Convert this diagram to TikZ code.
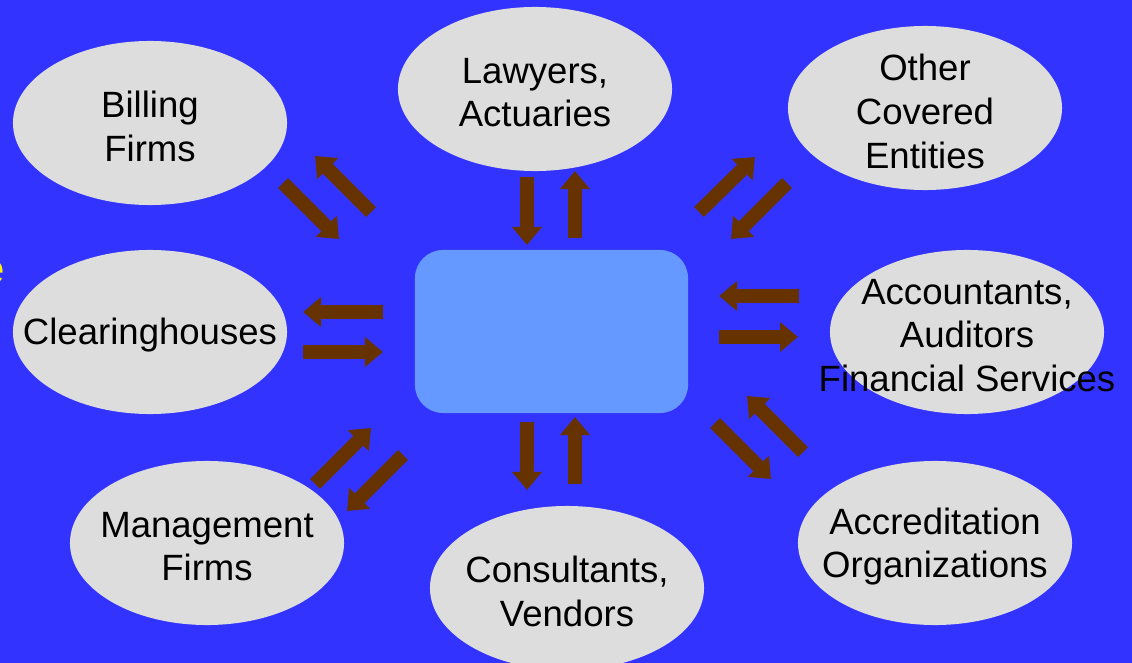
\documentclass[tikz,border=0pt]{standalone}
\usepackage{fontspec}
\setmainfont{Liberation Sans}
\usetikzlibrary{arrows.meta,shapes.geometric}
\definecolor{backblue}{HTML}{3333FF}
\definecolor{hubblue}{HTML}{6699FF}
\definecolor{partygray}{HTML}{DDDDDD}
\definecolor{flowbrown}{HTML}{663300}
\tikzset{
  party/.style = {shape=ellipse, fill=partygray, inner sep=0pt,
                  minimum width=6.85cm, minimum height=4.1cm},
  txt/.style   = {align=center, inner sep=0pt, yshift=-2.5pt,
                  font=\fontsize{26}{31}\selectfont},
  hub/.style   = {shape=rectangle, rounded corners=0.7cm, fill=hubblue,
                  minimum width=6.825cm, minimum height=4.075cm},
  flow/.style  = {draw=flowbrown, line width=0.35cm,
                  -{Triangle[length=0.45cm,width=0.72cm]}}
}
\begin{document}
\begin{tikzpicture}[x=0.025cm,y=-0.025cm]
\useasboundingbox (0,0) rectangle (1132,663);
\fill[backblue] (0,0) rectangle (1132,663);
% piece of a title running off the left edge
\node[anchor=east, inner sep=0pt, text=yellow,
      font=\fontsize{30}{36}\selectfont] (cut) at (5,272) {e};
% the business associates round the hub
\node [party, label={[txt]center:Billing\\Firms}] (bill) at (150,123) {};
\node [party, label={[txt]center:Lawyers,\\Actuaries}] (law) at (535,89) {};
\node [party, label={[txt]center:Other\\Covered\\Entities}] (other) at (925,108) {};
\node [party, label={[txt]center:Clearinghouses}] (clear) at (150,332) {};
\node [party, label={[txt]center:Accountants,\\Auditors\\Financial Services}] (acct) at (967,332) {};
\node [party, label={[txt]center:Management\\Firms}] (mgmt) at (207,543) {};
\node [party, label={[txt]center:Consultants,\\Vendors}] (cons) at (567,588) {};
\node [party, label={[txt]center:Accreditation\\Organizations}] (accr) at (935,543) {};
\node [hub] (hub) at (551.5,331.5) {};
% block arrows, two per associate
\foreach \tx/\ty/\hx/\hy [count=\i] in {
    283/183/339/239, 371/212/315/156,
    527/177/527/245, 575/238/575/171,
    699/212/755/157, 787/183/731/239,
    383/312/303/312, 303/352/383/352,
    799/296/719/296, 719/337/798/337,
    315/484/371/428, 403/455/347/511,
    527/422/527/490, 575/484/575/417,
    715/423/771/479, 803/452/747/396} {
  \coordinate (tail\i) at (\tx,\ty);
  \coordinate (head\i) at (\hx,\hy);
  \draw [flow] (tail\i) -- (head\i);
}
\end{tikzpicture}
\end{document}
